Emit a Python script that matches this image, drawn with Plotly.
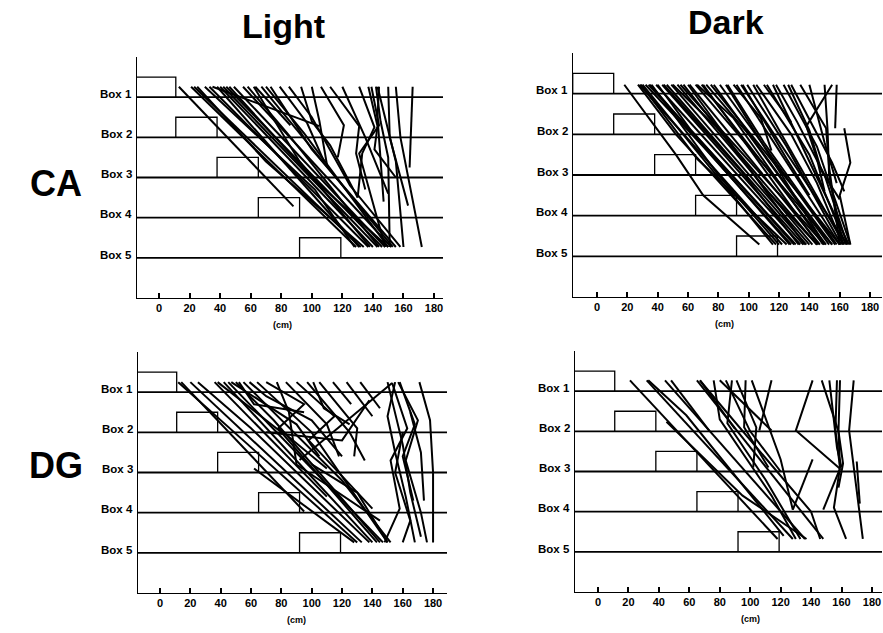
import plotly.graph_objects as go

# ---------------- data ----------------
COL_TITLES = ["Light", "Dark"]
ROW_TITLES = ["CA", "DG"]
BOX_LABELS = ["Box 1", "Box 2", "Box 3", "Box 4", "Box 5"]
BOX_ROWS = [1, 2, 3, 4, 5]
BOX_EDGES = [-16, 11, 38, 65, 92, 119]
X_TICKS = [0, 20, 40, 60, 80, 100, 120, 140, 160, 180]
X_UNIT = "(cm)"

CA_LIGHT = [
    [[13, .74], [88, 3.72]],
    [[21, .74], [129, 4.73]],
    [[23, .74], [132, 4.73]],
    [[25, .74], [70, 2.6], [134, 4.73]],
    [[30, .74], [102, 3.3], [128, 4.73]],
    [[33, .74], [137, 4.73]],
    [[35, .74], [105, 1.72]],
    [[38, .74], [131, 4.73]],
    [[40, .74], [140, 4.73]],
    [[42, .74], [143, 4.73]],
    [[44, .74], [146, 4.73]],
    [[46, .74], [100, 3.0], [150, 4.73]],
    [[49, .74], [148, 4.73]],
    [[55, .74], [152, 4.73]],
    [[58, .74], [84, 1.9], [144, 4.73]],
    [[62, .74], [92, 2.6], [138, 4.73]],
    [[63, .74], [86, 1.7]],
    [[67, .74], [153, 4.73]],
    [[70, .74], [95, 1.9], [150, 4.73]],
    [[73, .74], [100, 2.3], [155, 4.73]],
    [[79, .74], [97, 1.65], [108, 2.6]],
    [[85, .74], [100, 1.5], [125, 3.2], [158, 4.73]],
    [[93, .74], [100, 1.6], [112, 2.2], [130, 3.5]],
    [[100, .74], [105, 1.6], [110, 2.7]],
    [[106, .74], [121, 1.7], [117, 2.5]],
    [[112, .74], [131, 1.72], [129, 2.4], [135, 3.3]],
    [[120, .74], [135, 2.0], [150, 3.4]],
    [[131, .74], [141, 1.75], [133, 2.4], [130, 3.5]],
    [[137, .74], [143, 1.72], [141, 2.3], [155, 3.0]],
    [[139, .74], [144, 1.7], [131, 2.4], [148, 4.73]],
    [[142, .74], [145, 1.6], [150, 2.5], [151, 4.73]],
    [[143, .74], [155, 2.6], [160, 4.73]],
    [[144, .74], [143, 1.5], [147, 3.6]],
    [[150, .74], [151, 2.0], [163, 3.7]],
    [[155, .74], [158, 2.0], [172, 4.73]],
    [[166, .74], [164, 2.75]],
]

CA_DARK = [
    [[18, .78], [52, 2.5], [70, 3.5], [107, 4.71]],
    [[27, .78], [52, 2.0], [118, 4.71]],
    [[28, .78], [122, 4.71]],
    [[29, .78], [66, 2.6], [125, 4.71]],
    [[30, .78], [116, 4.71]],
    [[32, .78], [70, 2.3], [128, 4.71]],
    [[34, .78], [131, 4.71]],
    [[35, .78], [127, 4.71]],
    [[36, .78], [80, 3.0], [120, 4.71]],
    [[39, .78], [134, 4.71]],
    [[40, .78], [62, 1.9], [130, 4.71]],
    [[43, .78], [136, 4.71]],
    [[44, .78], [95, 2.9], [133, 4.71]],
    [[46, .78], [138, 4.71]],
    [[49, .78], [140, 4.71]],
    [[50, .78], [78, 1.8], [145, 4.71]],
    [[53, .78], [90, 2.4], [142, 4.71]],
    [[55, .78], [150, 4.71]],
    [[57, .78], [110, 3.3], [145, 4.71]],
    [[60, .78], [137, 4.71]],
    [[61, .78], [147, 4.71]],
    [[65, .78], [155, 4.71]],
    [[66, .78], [90, 1.6], [149, 4.71]],
    [[69, .78], [151, 4.71]],
    [[70, .78], [146, 4.71]],
    [[72, .78], [100, 2.0], [153, 4.71]],
    [[75, .78], [160, 4.71]],
    [[77, .78], [120, 3.0], [155, 4.71]],
    [[81, .78], [157, 4.71]],
    [[85, .78], [150, 4.71]],
    [[86, .78], [110, 2.2], [158, 4.71]],
    [[92, .78], [160, 4.71]],
    [[95, .78], [165, 4.71]],
    [[99, .78], [125, 2.3], [161, 4.71]],
    [[103, .78], [163, 4.71]],
    [[105, .78], [128, 2.0], [145, 3.2], [162, 4.71]],
    [[112, .78], [140, 2.5], [164, 4.71]],
    [[116, .78], [166, 4.71]],
    [[118, .78], [132, 1.7], [150, 3.0], [165, 4.71]],
    [[123, .78], [145, 2.3], [167, 4.71]],
    [[126, .78], [140, 1.9], [148, 2.9], [160, 3.6]],
    [[110, .78], [128, 1.7]],
    [[90, .78], [108, 1.6], [115, 2.4]],
    [[96, .78], [125, 2.6], [140, 3.5]],
    [[134, .78], [151, 1.85], [153, 2.8], [160, 4.71]],
    [[155, .78], [138, 1.8], [145, 2.6], [150, 3.4]],
    [[158, .78], [157, 1.85]],
    [[150, .78], [152, 1.9], [153, 3.0], [162, 4.71]],
    [[140, .78], [150, 2.2], [158, 3.2]],
    [[163, 1.85], [167, 2.7], [160, 3.5], [167, 4.71]],
    [[128, .78], [155, 2.7], [163, 3.4]],
]

DG_LIGHT = [
    [[12, .75], [130, 4.74]],
    [[14, .75], [95, 3.97]],
    [[20, .75], [133, 4.74]],
    [[25, .75], [60, 1.9], [138, 4.74]],
    [[36, .75], [110, 3.6]],
    [[38, .75], [80, 2.0], [143, 4.74]],
    [[42, .75], [140, 4.74]],
    [[45, .75], [147, 4.74]],
    [[47, .75], [90, 1.8], [105, 2.6]],
    [[50, .75], [75, 1.7], [145, 4.74]],
    [[52, .75], [62, 1.3], [95, 1.5]],
    [[55, .75], [120, 3.2], [152, 4.74]],
    [[59, .75], [70, 1.1], [100, 1.7], [120, 2.6]],
    [[64, .75], [100, 2.0], [150, 4.74]],
    [[70, .75], [95, 1.3], [78, 1.9], [110, 2.9]],
    [[77, .75], [85, 1.5], [90, 2.8], [145, 4.2]],
    [[83, .75], [110, 1.8], [118, 2.6]],
    [[90, .75], [115, 1.6], [98, 2.2], [140, 3.9]],
    [[97, .75], [125, 2.0], [135, 2.7]],
    [[101, .75], [108, 1.4], [125, 1.8]],
    [[105, .75], [130, 1.9], [128, 2.6]],
    [[114, .75], [126, 1.3]],
    [[123, .75], [140, 1.6]],
    [[132, .75], [145, 1.4]],
    [[92, 2.69], [153, .77]],
    [[70, 2.0], [120, 2.2], [138, 1.2]],
    [[153, .77], [163, 1.9], [152, 2.7], [158, 3.9], [148, 4.74]],
    [[155, .75], [150, 1.6], [155, 2.5], [162, 3.6], [168, 4.74]],
    [[157, .75], [170, 1.7], [162, 2.7], [172, 4.0], [176, 4.74]],
    [[158, .75], [168, 1.8], [160, 2.6], [167, 3.7]],
    [[150, .75], [160, 2.3], [165, 3.5], [172, 4.6]],
    [[171, .75], [178, 1.7], [180, 3.0], [180, 4.74]],
    [[165, 1.5], [172, 2.5], [174, 3.7]],
    [[160, 2.0], [155, 3.0], [165, 4.2], [160, 4.74]],
    [[100, 2.8], [130, 3.5], [150, 4.74]],
    [[62, 2.9], [128, 4.74]],
]

DG_DARK = [
    [[21, .73], [118, 4.68]],
    [[32, .73], [128, 4.68]],
    [[33, .73], [58, 1.6], [122, 4.6]],
    [[44, .73], [136, 4.68]],
    [[48, .73], [73, 1.98]],
    [[65, .73], [148, 4.68]],
    [[67, .73], [84, 1.5], [140, 4.0], [146, 4.68]],
    [[76, .73], [80, 1.7], [114, 3.6], [130, 4.68]],
    [[80, .73], [114, 1.98]],
    [[84, .73], [100, 2.0], [120, 3.0]],
    [[88, .73], [85, 1.8], [110, 3.2], [133, 4.68]],
    [[91, .73], [104, 1.9], [102, 2.9]],
    [[97, .73], [96, 1.9], [112, 2.9]],
    [[101, .73], [120, 2.7], [128, 3.95]],
    [[114, .73], [106, 1.98]],
    [[67, .73], [90, 1.94]],
    [[141, .73], [130, 1.98], [159, 2.93]],
    [[147, .73], [158, 2.0], [159, 2.9], [155, 3.9], [163, 4.68]],
    [[152, .73], [157, 2.4], [160, 2.9]],
    [[157, .73], [156, 1.98], [159, 2.9]],
    [[159, .73], [158, 2.0], [161, 2.8], [158, 3.4]],
    [[168, .73], [165, 1.98], [174, 4.68]],
    [[170, 2.75], [172, 3.8]],
    [[141, 2.7], [128, 3.95]],
    [[159, 2.93], [148, 3.95]],
    [[45, 1.76], [95, 3.6], [137, 4.68]],
]

PANEL_TRACKS = [CA_LIGHT, CA_DARK, DG_LIGHT, DG_DARK]
CM_POS = [81, 84, 90, 100]

# ---------------- layout config (pixels of the 883x633 window) ----------------
W, H = 883, 633
PANELS = [
    dict(px=(137, 443), py=(57, 298), zero=159, scale=1.528),
    dict(px=(573, 882), py=(53, 297), zero=597, scale=1.517),
    dict(px=(138, 447), py=(352, 593), zero=160, scale=1.517),
    dict(px=(575, 882), py=(351, 592), zero=598, scale=1.522),
]
FONT = "Liberation Sans, Arial, Helvetica, sans-serif"


def fx(px):
    return px / W


def fy(py):
    return 1 - py / H


fig = go.Figure()
layout = dict(
    width=W, height=H, margin=dict(l=0, r=0, t=0, b=0, autoexpand=False),
    paper_bgcolor="white", plot_bgcolor="white", showlegend=False,
    font=dict(family=FONT, color="black"),
)
annotations = []

for i, p in enumerate(PANELS):
    n = "" if i == 0 else str(i + 1)
    xa, ya = "x" + n, "y" + n
    x0 = (p["px"][0] - p["zero"]) / p["scale"]
    x1 = (p["px"][1] - p["zero"]) / p["scale"]
    layout["xaxis" + n] = dict(
        domain=[fx(p["px"][0]), fx(p["px"][1])], range=[x0, x1], anchor=ya,
        showline=True, linecolor="black", linewidth=1, showgrid=False, zeroline=False,
        ticks="inside", ticklen=5, tickwidth=1.5, tickcolor="black",
        ticklabeloverflow="allow",
        tickvals=X_TICKS, tickfont=dict(size=11, family=FONT, color="black", weight="bold"),
    )
    layout["yaxis" + n] = dict(
        domain=[fy(p["py"][1]), fy(p["py"][0])], range=[6, 0], anchor=xa,
        showline=True, linecolor="black", linewidth=1, showgrid=False, zeroline=False,
        showticklabels=False, ticks="",
    )
    # horizontal box lines
    hx, hy = [], []
    for r in BOX_ROWS:
        hx += [x0 - 5, x1 + 5, None]
        hy += [r, r, None]
    fig.add_trace(go.Scatter(x=hx, y=hy, mode="lines", xaxis=xa, yaxis=ya,
                             line=dict(color="black", width=1.8), hoverinfo="skip"))
    # box rectangles
    bx, by = [], []
    for k, r in enumerate(BOX_ROWS):
        l, rr = BOX_EDGES[k], BOX_EDGES[k + 1]
        bx += [l, l, rr, rr, None]
        by += [r, r - 0.5, r - 0.5, r, None]
    fig.add_trace(go.Scatter(x=bx, y=by, mode="lines", xaxis=xa, yaxis=ya,
                             line=dict(color="black", width=1.3), hoverinfo="skip"))
    # trajectories
    tx, ty = [], []
    for tr in PANEL_TRACKS[i]:
        tx += [pt[0] for pt in tr] + [None]
        ty += [pt[1] for pt in tr] + [None]
    fig.add_trace(go.Scatter(x=tx, y=ty, mode="lines", xaxis=xa, yaxis=ya,
                             line=dict(color="black", width=2.0), hoverinfo="skip"))
    # box labels
    for r, lab in zip(BOX_ROWS, BOX_LABELS):
        annotations.append(dict(
            text=lab, xref=xa + " domain", x=0, xanchor="right", xshift=-3,
            yref=ya, y=r - 0.08, yanchor="middle", showarrow=False,
            font=dict(size=11.5, family=FONT, color="black", weight="bold")))
    # unit label
    annotations.append(dict(
        text=X_UNIT, xref=xa, x=CM_POS[i], xanchor="center",
        yref=ya + " domain", y=0, yanchor="middle", yshift=-27, showarrow=False,
        font=dict(size=9, family=FONT, color="black", weight="bold")))

# column / row titles
TITLE_POS = [(283, 26), (726, 22)]
ROW_POS = [(56, 183), (56, 465)]
for t, (px, py) in zip(COL_TITLES, TITLE_POS):
    annotations.append(dict(text=t, xref="paper", yref="paper", x=fx(px), y=fy(py),
                            xanchor="center", yanchor="middle", showarrow=False,
                            font=dict(size=34, family=FONT, color="black", weight="bold")))
for t, (px, py) in zip(ROW_TITLES, ROW_POS):
    annotations.append(dict(text=t, xref="paper", yref="paper", x=fx(px), y=fy(py),
                            xanchor="center", yanchor="middle", showarrow=False,
                            font=dict(size=36, family=FONT, color="black", weight="bold")))

layout["annotations"] = annotations
fig.update_layout(**layout)
fig.write_html(
    "out.html",
    config={"displayModeBar": False},
    post_script="document.body.style.margin='0';document.body.style.overflow='hidden';",
)
